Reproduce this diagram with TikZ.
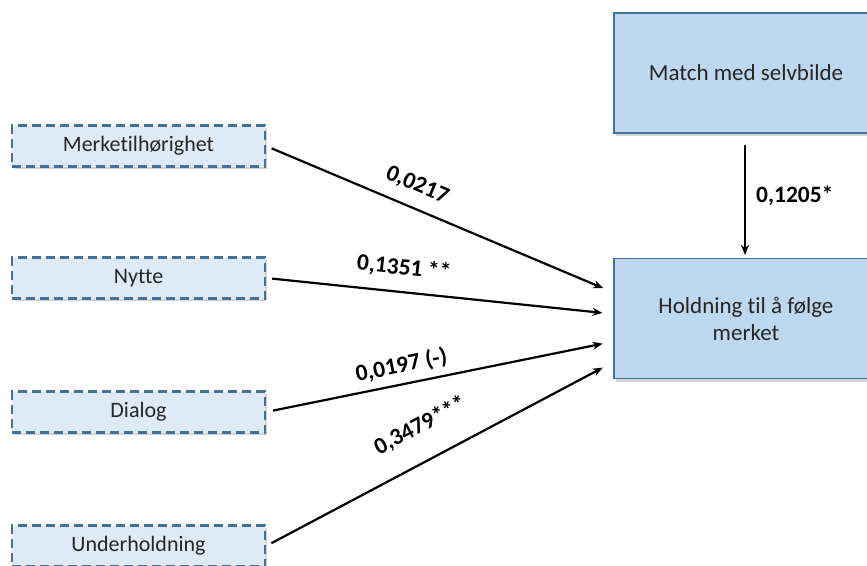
\documentclass[tikz,border=0pt]{standalone}
\usepackage{fontspec}
\setmainfont{Carlito}[Ligatures=NoCommon]
\usetikzlibrary{arrows.meta,shadows}
\definecolor{boxline}{HTML}{41719C}
\definecolor{lightfill}{HTML}{DEEBF7}
\definecolor{darkfill}{HTML}{BDD7EE}
\definecolor{boxtext}{HTML}{262626}
\begin{document}
\begin{tikzpicture}[x=1pt, y=-1pt,
    faktor/.style={rectangle, draw=boxline, line width=2.2pt, dash pattern=on 9pt off 5pt,
      fill=lightfill, minimum width=253pt, minimum height=41pt, text=boxtext,
      font=\fontsize{22}{26}\selectfont,
      drop shadow={opacity=0.35, shadow xshift=2pt, shadow yshift=-2.5pt}},
    utfall/.style={rectangle, draw=boxline, line width=1.2pt, fill=darkfill,
      minimum width=264pt, minimum height=120pt, text=boxtext, align=center,
      font=\fontsize{23}{27}\selectfont,
      drop shadow={opacity=0.35, shadow xshift=2pt, shadow yshift=-3pt}},
    pil/.style={line width=2.2pt, -{Stealth[length=10pt,width=8pt]}},
    verdi/.style={font=\bfseries\fontsize{23.5}{27}\selectfont, inner sep=2pt, sloped}]
    \clip (0,0) rectangle (867,565);
    \useasboundingbox (0,0) rectangle (867,565);

    % Faktorer (venstre side)
    \node[faktor] (Merke) at (138.5, 146) {Merketilhørighet};
    \node[faktor] (Nytte) at (138.5, 278) {Nytte};
    \node[faktor] (Dialog) at (138.5, 412) {Dialog};
    \node[faktor] (Under) at (138.5, 546) {Underholdning};

    % Utfall (høyre side)
    \node[utfall] (Match) at (746, 73) {Match med selvbilde};
    \node[utfall] (Holdning) at (746, 318.5) {Holdning til å følge\\merket};

    % Piler med koeffisienter
    \draw[pil, shorten <=6pt, shorten >=11pt] (Merke.east) -- ([yshift=26pt]Holdning.west)
      node[verdi, pos=0.41, above=10pt] {0,0217};
    \draw[pil, shorten <=6pt, shorten >=11pt] (Nytte.east) -- ([yshift=4.5pt]Holdning.west)
      node[verdi, pos=0.39, above=11pt] {0,1351 **};
    \draw[pil, shorten <=7pt, shorten >=11pt] (Dialog.east) -- ([yshift=-23pt]Holdning.west)
      node[verdi, pos=0.40, above=5pt] {0,0197 (-)};
    \draw[pil, shorten <=6pt, shorten >=12pt] (Under.east) -- ([yshift=-43.5pt]Holdning.west)
      node[verdi, pos=0.49, above=21pt] {0,3479***};

    \draw[pil, shorten <=11pt, shorten >=3pt] ([xshift=-1pt]Match.south) -- ([xshift=-1pt]Holdning.north)
      node[verdi, sloped=false, midway, right=8pt] {0,1205*};
\end{tikzpicture}
\end{document}
